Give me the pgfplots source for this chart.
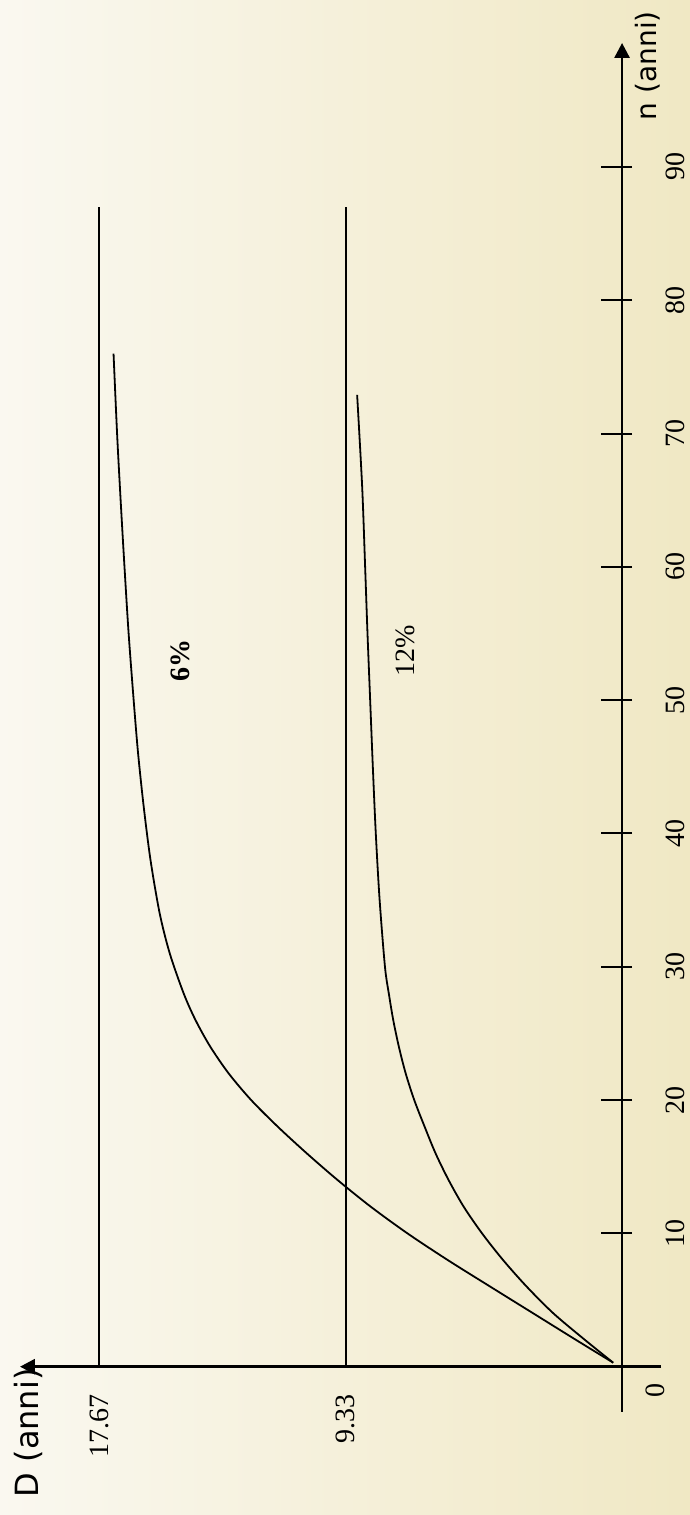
\documentclass[border=0pt]{standalone}
\usepackage{fontspec}
\setmainfont{Liberation Serif}
\newfontfamily\sansf{DejaVu Sans}
\usepackage{pgfplots}
\pgfplotsset{compat=1.18}
\usetikzlibrary{arrows.meta}
\definecolor{bgA}{RGB}{250,248,240}
\definecolor{bgB}{RGB}{247,243,226}
\definecolor{bgC}{RGB}{240,232,196}
\begin{document}
\begin{tikzpicture}
\shade[left color=bgA, middle color=bgB, right color=bgC] (0,0) rectangle (345pt,757.5pt);
\begin{axis}[
  at={(10pt,51.5pt)}, anchor=south west,
  x=14.8pt, y=6.665pt, x dir=reverse,
  xmin=-1.32, xmax=20.34, ymin=-3.4, ymax=99.3,
  axis lines=middle,
  axis line style={line width=1.4pt, black},
  every inner x axis line/.append style={-{Triangle[length=7.5pt,width=7.5pt]}},
  every inner y axis line/.append style={-{Triangle[length=7.5pt,width=7.5pt]}},
  xtick={9.33,17.67}, xticklabels={9.33,17.67},
  ytick={10,20,30,40,50,60,70,80,90},
  major tick length=15.5pt, tick align=center,
  xtick style={draw=none},
  ytick style={line width=1pt, black, xshift=-2.75pt},
  xticklabel style={rotate=90, anchor=east, inner sep=0pt},
  xticklabel shift=6pt,
  yticklabel style={rotate=90, anchor=north, inner sep=0pt},
  yticklabel shift=-29.25pt,
  /pgf/number format/assume math mode=true,
  font=\fontsize{14}{16}\selectfont,
  clip=false,
]
% horizontal asymptotes
\addplot[black, line width=0.8pt] coordinates {(17.67,0) (17.67,87)};
\addplot[black, line width=0.8pt] coordinates {(9.33,0) (9.33,87)};
% 6% curve
\addplot[black, line width=0.9pt, smooth] coordinates {
(0.3,0.3) (1.55,2) (3.0,4) (4.45,6) (5.89,8) (7.25,10) (8.49,12) (9.61,14)
(10.65,16) (11.63,18) (12.53,20) (13.29,22) (13.91,24) (14.41,26) (14.81,28)
(15.28,31) (15.62,34) (15.93,38) (16.16,42) (16.35,46) (16.50,50)
(16.67,55) (16.81,60) (16.94,65) (17.06,70) (17.18,76)};
% 12% curve
\addplot[black, line width=0.9pt, smooth] coordinates {
(0.3,0.3) (1.25,2) (2.32,4) (3.22,6) (4.02,8) (4.73,10) (5.35,12) (5.86,14)
(6.30,16) (6.67,18) (7.02,20) (7.31,22) (7.54,24) (7.73,26) (7.88,28)
(8.01,30) (8.19,35) (8.32,40) (8.42,45) (8.51,50) (8.60,55) (8.68,60)
(8.78,66) (8.95,72.9)};
\node[rotate=90, font=\bfseries\fontsize{14}{16}\selectfont] at (axis cs:14.93,53.0) {6\%};
\node[rotate=90] at (axis cs:7.33,53.7) {12\%};
\node[rotate=90, anchor=east, inner sep=0pt, font=\sansf\fontsize{16}{18}\selectfont] at (axis cs:20.07,-0.1) {D (anni)};
\node[rotate=90, inner sep=0pt, font=\sansf\fontsize{14}{16}\selectfont] at (axis cs:-0.88,97.6) {n (anni)};
\node[rotate=90, inner sep=0pt] at (axis cs:-1.11,-1.75) {0};
\end{axis}
\pgfresetboundingbox
\path[use as bounding box] (0,0) rectangle (345pt,757.5pt);
\end{tikzpicture}
\end{document}
